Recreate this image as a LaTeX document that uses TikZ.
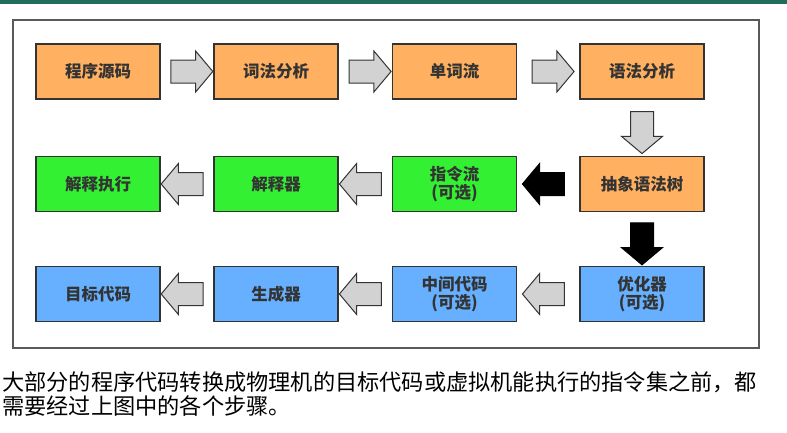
\documentclass[tikz,border=0pt]{standalone}
\usepackage{fontspec}
\newfontfamily\cjk{Noto Sans CJK SC}
\usetikzlibrary{shapes.arrows,calc}
\definecolor{orng}{HTML}{FFB060}
\definecolor{grn}{HTML}{33F033}
\definecolor{blu}{HTML}{66B0FF}
\definecolor{txt}{HTML}{333333}
\definecolor{topline}{HTML}{1F6E5A}
\tikzset{
  box/.style={draw=txt,line width=1.2pt,minimum width=124pt,minimum height=55pt,inner sep=0pt,align=center,font=\cjk\bfseries\fontsize{16.5}{18}\selectfont,text=txt},
  garrow/.style={single arrow,draw=txt,fill=gray!35,line width=1pt,minimum height=42pt,minimum width=0pt,inner sep=11pt,single arrow head extend=9pt,single arrow tip angle=100},
  barrow/.style={garrow,fill=black,draw=black}
}
\begin{document}
\begin{tikzpicture}[x=1pt,y=-1pt]
\useasboundingbox (0,0) rectangle (787,432);
\fill[white] (0,0) rectangle (787,432);
\fill[topline] (0,0) rectangle (787,4);
\draw[gray!70!black,line width=1.4pt] (13,20) rectangle (759,348);
\node[box,fill=orng] (a) at (98,71.5) {程序源码};
\node[box,fill=orng] (b) at (276,71.5) {词法分析};
\node[box,fill=orng] (c) at (454.5,71.5) {单词流};
\node[box,fill=orng] (d) at (642,71.5) {语法分析};
\node[box,fill=orng] (e) at (642,184) {抽象语法树};
\node[box,fill=grn] (f) at (454.5,184) {指令流\\(可选)};
\node[box,fill=grn] (g) at (276,184) {解释器};
\node[box,fill=grn] (h) at (98,184) {解释执行};
\node[box,fill=blu] (i) at (642,294) {优化器\\(可选)};
\node[box,fill=blu] (j) at (454.5,294) {中间代码\\(可选)};
\node[box,fill=blu] (k) at (276,294) {生成器};
\node[box,fill=blu] (l) at (98,294) {目标代码};
\node[garrow] (ab) at ($(a.east)!0.5!(b.west)$) {};
\node[garrow] (bc) at ($(b.east)!0.5!(c.west)$) {};
\node[garrow] (cd) at ($(c.east)!0.5!(d.west)$) {};
\node[garrow,shape border rotate=270] (de) at ($(d.south)!0.5!(e.north)$) {};
\node[barrow,shape border rotate=180] (ef) at ($(e.west)!0.5!(f.east)$) {};
\node[garrow,shape border rotate=180] (fg) at ($(f.west)!0.5!(g.east)$) {};
\node[garrow,shape border rotate=180] (gh) at ($(g.west)!0.5!(h.east)$) {};
\node[barrow,shape border rotate=270] (ei) at ($(e.south)!0.5!(i.north)$) {};
\node[garrow,shape border rotate=180] (ij) at ($(i.west)!0.5!(j.east)$) {};
\node[garrow,shape border rotate=180] (jk) at ($(j.west)!0.5!(k.east)$) {};
\node[garrow,shape border rotate=180] (kl) at ($(k.west)!0.5!(l.east)$) {};
\node[anchor=north west,inner sep=0pt,align=left,font=\cjk\fontsize{22.2}{23.5}\selectfont] (cap) at (2,372)
 {大部分的程序代码转换成物理机的目标代码或虚拟机能执行的指令集之前，都\\需要经过上图中的各个步骤。};
\end{tikzpicture}
\end{document}
